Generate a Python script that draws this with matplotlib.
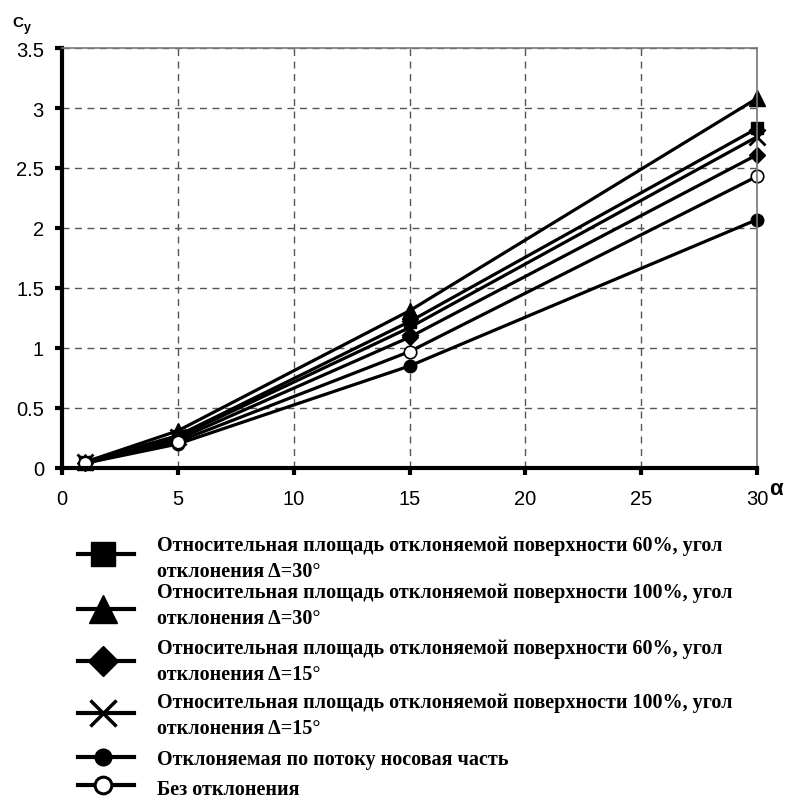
import matplotlib
matplotlib.use('Agg')
import matplotlib.pyplot as plt
from matplotlib.lines import Line2D

# данные
alpha = [1, 5, 15, 30]
cy_s60_d30 = [0.05, 0.27, 1.22, 2.83]
cy_s100_d30 = [0.05, 0.31, 1.31, 3.08]
cy_s60_d15 = [0.04, 0.24, 1.09, 2.61]
cy_s100_d15 = [0.05, 0.26, 1.17, 2.76]
cy_nose = [0.04, 0.20, 0.85, 2.07]
cy_none = [0.04, 0.22, 0.97, 2.43]

labels = [
    "Относительная площадь отклоняемой поверхности 60%, угол\nотклонения \u0394=30°",
    "Относительная площадь отклоняемой поверхности 100%, угол\nотклонения \u0394=30°",
    "Относительная площадь отклоняемой поверхности 60%, угол\nотклонения \u0394=15°",
    "Относительная площадь отклоняемой поверхности 100%, угол\nотклонения \u0394=15°",
    "Отклоняемая по потоку носовая часть",
    "Без отклонения",
]

xticks = [0, 5, 10, 15, 20, 25, 30]
yticks = [0, 0.5, 1, 1.5, 2, 2.5, 3, 3.5]
ytick_labels = ['0', '0.5', '1', '1.5', '2', '2.5', '3', '3.5']

W, H = 787, 803
fig = plt.figure(figsize=(W / 100, H / 100), dpi=100)
ax = fig.add_axes([62 / W, 1 - 469 / H, (757 - 62) / W, (469 - 49) / H])

series = [cy_s60_d30, cy_s100_d30, cy_s60_d15, cy_s100_d15, cy_nose, cy_none]
styles = [
    dict(marker='s', ms=9, mfc='black'),
    dict(marker='^', ms=11, mfc='black'),
    dict(marker='D', ms=8, mfc='black'),
    dict(marker='x', ms=11, mew=2),
    dict(marker='o', ms=9, mfc='black'),
    dict(marker='o', ms=9, mfc='white', mew=1.2),
]
for vals, st in zip(series, styles):
    ax.plot(alpha, vals, color='black', lw=2.3, mec='black', clip_on=False, **st)

ax.set_xlim(0, 30)
ax.set_ylim(0, 3.5)
ax.set_xticks(xticks)
ax.set_yticks(yticks)
ax.set_xticklabels([str(t) for t in xticks])
ax.set_yticklabels(ytick_labels)
ax.grid(True, color='#555555', ls=(0, (5, 4)), lw=1.0)
ax.tick_params(axis='both', labelsize=14.5, width=3, length=5, direction='out',
               color='black')
ax.tick_params(axis='x', pad=10)
ax.tick_params(axis='y', pad=8)
for t in ax.get_xticklabels() + ax.get_yticklabels():
    t.set_fontfamily('Liberation Sans')
for s in ['left', 'bottom']:
    ax.spines[s].set_linewidth(3)
for s in ['top', 'right']:
    ax.spines[s].set_color('#777777')
    ax.spines[s].set_linewidth(1.2)
ax.set_axisbelow(True)

# подписи осей
fig.text(12 / W, 1 - 23 / H, 'C', fontsize=11, fontweight='bold',
         family='Liberation Sans', va='center')
fig.text(24 / W, 1 - 28 / H, 'y', fontsize=9, fontweight='bold',
         family='Liberation Sans', va='center')
fig.text(769 / W, 1 - 490 / H, '\u03b1', fontsize=16, fontweight='bold',
         family='Liberation Sans', va='center')

# легенда
hy = [555, 610, 662, 714, 758, 786]
ty = [559, 606, 662, 716, 760, 790]
leg_styles = [
    dict(marker='s', ms=17, mfc='black'),
    dict(marker='^', ms=20, mfc='black'),
    dict(marker='D', ms=15, mfc='black'),
    dict(marker='x', ms=19, mew=2.5),
    dict(marker='o', ms=12, mfc='black'),
    dict(marker='o', ms=12, mfc='white', mew=2.2),
]
for y, yt, lab, st in zip(hy, ty, labels, leg_styles):
    fy = 1 - y / H
    fig.add_artist(Line2D([78 / W, 134 / W], [fy, fy], color='black', lw=3,
                          transform=fig.transFigure))
    fig.add_artist(Line2D([103 / W], [fy], color='black', mec='black',
                          transform=fig.transFigure, **st))
    fig.text(157 / W, 1 - yt / H, lab, fontsize=14.5, fontweight='bold',
             family='Liberation Serif', va='center', linespacing=1.36)

fig.savefig('out.png', dpi=100)
